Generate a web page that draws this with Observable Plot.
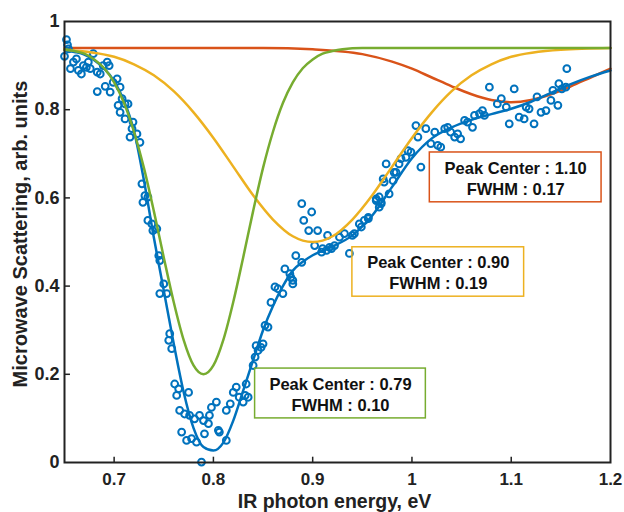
<!DOCTYPE html>
<html><head><meta charset="utf-8">
<script src="https://cdn.jsdelivr.net/npm/d3@7"></script>
<script src="https://cdn.jsdelivr.net/npm/@observablehq/plot@0.6"></script>
<style>body{margin:0;background:#fff}</style>
</head><body><div id="chart"></div>
<script>
// measured points (IR photon energy, eV ; scattering)
const energy = [0.650,0.652,0.653,0.654,0.656,0.659,0.662,0.664,0.667,0.669,0.672,0.674,0.676,0.679,0.683,0.683,0.686,0.689,0.691,0.693,0.695,0.696,0.699,0.703,0.704,0.706,0.706,0.708,0.711,0.711,0.714,0.716,0.718,0.719,0.723,0.726,0.728,0.729,0.731,0.734,0.734,0.738,0.739,0.743,0.745,0.746,0.746,0.750,0.753,0.755,0.756,0.758,0.761,0.763,0.765,0.766,0.768,0.771,0.773,0.775,0.776,0.778,0.781,0.783,0.786,0.788,0.790,0.791,0.795,0.796,0.798,0.803,0.805,0.806,0.813,0.813,0.817,0.820,0.823,0.826,0.830,0.832,0.833,0.835,0.840,0.842,0.843,0.845,0.848,0.850,0.852,0.855,0.858,0.862,0.865,0.870,0.872,0.877,0.878,0.880,0.880,0.883,0.889,0.889,0.891,0.896,0.899,0.902,0.905,0.909,0.910,0.914,0.915,0.917,0.919,0.922,0.927,0.932,0.937,0.940,0.942,0.947,0.949,0.952,0.956,0.956,0.964,0.964,0.967,0.967,0.969,0.969,0.971,0.972,0.974,0.977,0.981,0.982,0.984,0.987,0.989,0.994,0.996,0.999,1.004,1.006,1.009,1.014,1.019,1.023,1.026,1.029,1.033,1.036,1.039,1.043,1.046,1.049,1.053,1.056,1.061,1.063,1.068,1.071,1.073,1.078,1.086,1.090,1.095,1.098,1.103,1.108,1.113,1.115,1.118,1.123,1.126,1.130,1.135,1.140,1.142,1.147,1.148,1.151,1.155,1.156];
const signal = [0.921,0.959,0.947,0.938,0.893,0.908,0.915,0.889,0.881,0.900,0.896,0.908,0.893,0.927,0.885,0.841,0.881,0.900,0.853,0.908,0.900,0.840,0.862,0.870,0.810,0.851,0.794,0.825,0.813,0.779,0.813,0.738,0.757,0.772,0.745,0.726,0.632,0.590,0.605,0.602,0.549,0.541,0.526,0.530,0.469,0.458,0.383,0.405,0.383,0.277,0.292,0.258,0.178,0.152,0.167,0.118,0.069,0.110,0.050,0.159,0.107,0.054,0.099,0.046,0.107,0.001,0.095,0.065,0.088,0.107,0.125,0.137,0.073,0.069,0.050,0.118,0.133,0.159,0.171,0.148,0.137,0.152,0.178,0.148,0.220,0.239,0.265,0.254,0.261,0.269,0.311,0.307,0.363,0.398,0.394,0.383,0.439,0.428,0.420,0.413,0.405,0.469,0.454,0.587,0.549,0.526,0.568,0.492,0.526,0.477,0.485,0.481,0.515,0.488,0.485,0.492,0.511,0.519,0.474,0.515,0.519,0.541,0.534,0.549,0.553,0.556,0.594,0.598,0.602,0.579,0.590,0.587,0.643,0.636,0.677,0.609,0.639,0.658,0.658,0.677,0.689,0.692,0.707,0.704,0.764,0.738,0.670,0.757,0.723,0.749,0.719,0.715,0.757,0.760,0.749,0.738,0.745,0.734,0.776,0.772,0.760,0.787,0.791,0.798,0.787,0.851,0.813,0.825,0.806,0.768,0.847,0.783,0.779,0.806,0.802,0.768,0.829,0.794,0.798,0.821,0.844,0.810,0.859,0.847,0.851,0.893];

// total fit curve
const fitX = [0.65,0.66,0.67,0.68,0.69,0.70,0.71,0.72,0.73,0.74,0.75,0.76,0.77,0.78,0.79,0.80,0.81,0.82,0.83,0.84,0.85,0.86,0.87,0.88,0.89,0.90,0.91,0.92,0.94,0.96,0.98,1.00,1.02,1.04,1.06,1.08,1.10,1.12,1.14,1.16,1.18,1.20];
const fitY = [0.935,0.931,0.925,0.912,0.893,0.865,0.820,0.752,0.640,0.510,0.390,0.270,0.160,0.078,0.035,0.027,0.045,0.095,0.163,0.232,0.300,0.355,0.400,0.435,0.455,0.470,0.480,0.490,0.515,0.560,0.625,0.690,0.735,0.760,0.777,0.790,0.802,0.818,0.838,0.858,0.875,0.889];

// component peak at 0.79 (green)
const greenX = [0.65,0.66,0.67,0.68,0.69,0.70,0.71,0.72,0.73,0.74,0.75,0.76,0.77,0.78,0.79,0.80,0.81,0.82,0.83,0.84,0.85,0.86,0.87,0.88,0.89,0.90,0.91,0.92,0.93,0.95,1.00,1.20];
const greenY = [0.937,0.933,0.927,0.914,0.894,0.862,0.815,0.750,0.668,0.570,0.465,0.364,0.278,0.220,0.200,0.220,0.278,0.364,0.465,0.570,0.668,0.750,0.815,0.862,0.894,0.914,0.927,0.933,0.937,0.940,0.940,0.940];

// component peak at 0.90 (yellow)
const yellowX = [0.65,0.70,0.72,0.74,0.76,0.78,0.80,0.82,0.84,0.86,0.88,0.90,0.92,0.94,0.96,0.98,1.00,1.02,1.04,1.06,1.08,1.10,1.15,1.20];
const yellowY = [0.936,0.920,0.903,0.878,0.842,0.794,0.736,0.671,0.606,0.551,0.513,0.500,0.513,0.551,0.606,0.671,0.736,0.794,0.842,0.878,0.903,0.920,0.936,0.940];

// component peak at 1.10 (red)
const redX = [0.65,0.85,0.90,0.95,0.98,1.00,1.02,1.04,1.06,1.08,1.10,1.12,1.14,1.16,1.18,1.20];
const redY = [0.940,0.940,0.937,0.926,0.909,0.893,0.873,0.853,0.835,0.822,0.817,0.822,0.835,0.853,0.873,0.893];

const xTicks = [0.7,0.8,0.9,1.0,1.1,1.2];
const xTickLabels = ["0.7","0.8","0.9","1","1.1","1.2"];
const yTicks = [0,0.2,0.4,0.6,0.8,1];
const yTickLabels = ["0","0.2","0.4","0.6","0.8","1"];

const boxX1 = [1.018,0.940,0.842];
const boxX2 = [1.191,1.113,1.014];
const boxY1 = [0.590,0.376,0.100];
const boxY2 = [0.703,0.488,0.213];
const boxText = ["Peak Center : 1.10\nFWHM : 0.17","Peak Center : 0.90\nFWHM : 0.19","Peak Center : 0.79\nFWHM : 0.10"];
const boxColor = ["#D95319","#EDB120","#77AC30"];

const pts = energy.map((e,i)=>({x:e,y:signal[i]}));
const toXY = (xs,ys)=>xs.map((x,i)=>({x,y:ys[i]}));
const boxes = boxText.map((t,i)=>({x1:boxX1[i],x2:boxX2[i],y1:boxY1[i],y2:boxY2[i],t,c:boxColor[i]}));

const chart = Plot.plot({
  width:624, height:512,
  marginLeft:64, marginRight:14, marginTop:21, marginBottom:50,
  style:{fontFamily:"'Liberation Sans', Arial, sans-serif", fontSize:"14px", fontWeight:"bold", color:"#222", background:"#fff"},
  x:{domain:[0.65,1.2]},
  y:{domain:[0,1]},
  marks:[
    Plot.axisX(xTicks,{tickSize:0, tickPadding:10, tickFormat:d=>xTickLabels[xTicks.indexOf(d)], label:null, fontSize:17}),
    Plot.axisY(yTicks,{tickSize:0, tickPadding:5, tickFormat:d=>yTickLabels[yTicks.indexOf(d)], label:null, fontSize:18}),
    Plot.ruleX(xTicks.slice(0,5),{y1:0, y2:0.012, stroke:"#222", strokeWidth:1.5}),
    Plot.ruleY(yTicks.slice(1,5),{x1:0.65, x2:0.656, stroke:"#222", strokeWidth:1.5}),
    Plot.line(toXY(redX,redY),{x:"x",y:"y",stroke:"#D95319",strokeWidth:2.5,curve:"monotone-x"}),
    Plot.dot(pts,{x:"x",y:"y",r:3.4,stroke:"#0072BD",strokeWidth:2,fill:"none"}),
    Plot.line(toXY(fitX,fitY),{x:"x",y:"y",stroke:"#0072BD",strokeWidth:2.5,curve:"monotone-x"}),
    Plot.line(toXY(yellowX,yellowY),{x:"x",y:"y",stroke:"#EDB120",strokeWidth:2.5,curve:"monotone-x"}),
    Plot.line(toXY(greenX,greenY),{x:"x",y:"y",stroke:"#77AC30",strokeWidth:2.5,curve:"monotone-x"}),
    Plot.rect(boxes,{x1:"x1",x2:"x2",y1:"y1",y2:"y2",fill:"none",stroke:"c",strokeWidth:1.5}),
    Plot.text(boxes,{x:d=>(d.x1+d.x2)/2,y:d=>(d.y1+d.y2)/2,text:"t",fontSize:16.5,fontWeight:"bold",fill:"#111",lineHeight:1.27}),
    Plot.text(["IR photon energy, eV"],{frameAnchor:"bottom",lineAnchor:"middle",dy:39,dx:-3,fontSize:19.5,fontWeight:"bold",fill:"#222"}),
    Plot.text(["Microwave Scattering, arb. units"],{frameAnchor:"left",textAnchor:"middle",lineAnchor:"middle",rotate:-90,dx:-44,dy:-8,fontSize:20,fontWeight:"bold",fill:"#222"}),
    Plot.frame({stroke:"#222",strokeWidth:2})
  ]
});
document.getElementById("chart").appendChild(chart);
</script>
</body></html>
